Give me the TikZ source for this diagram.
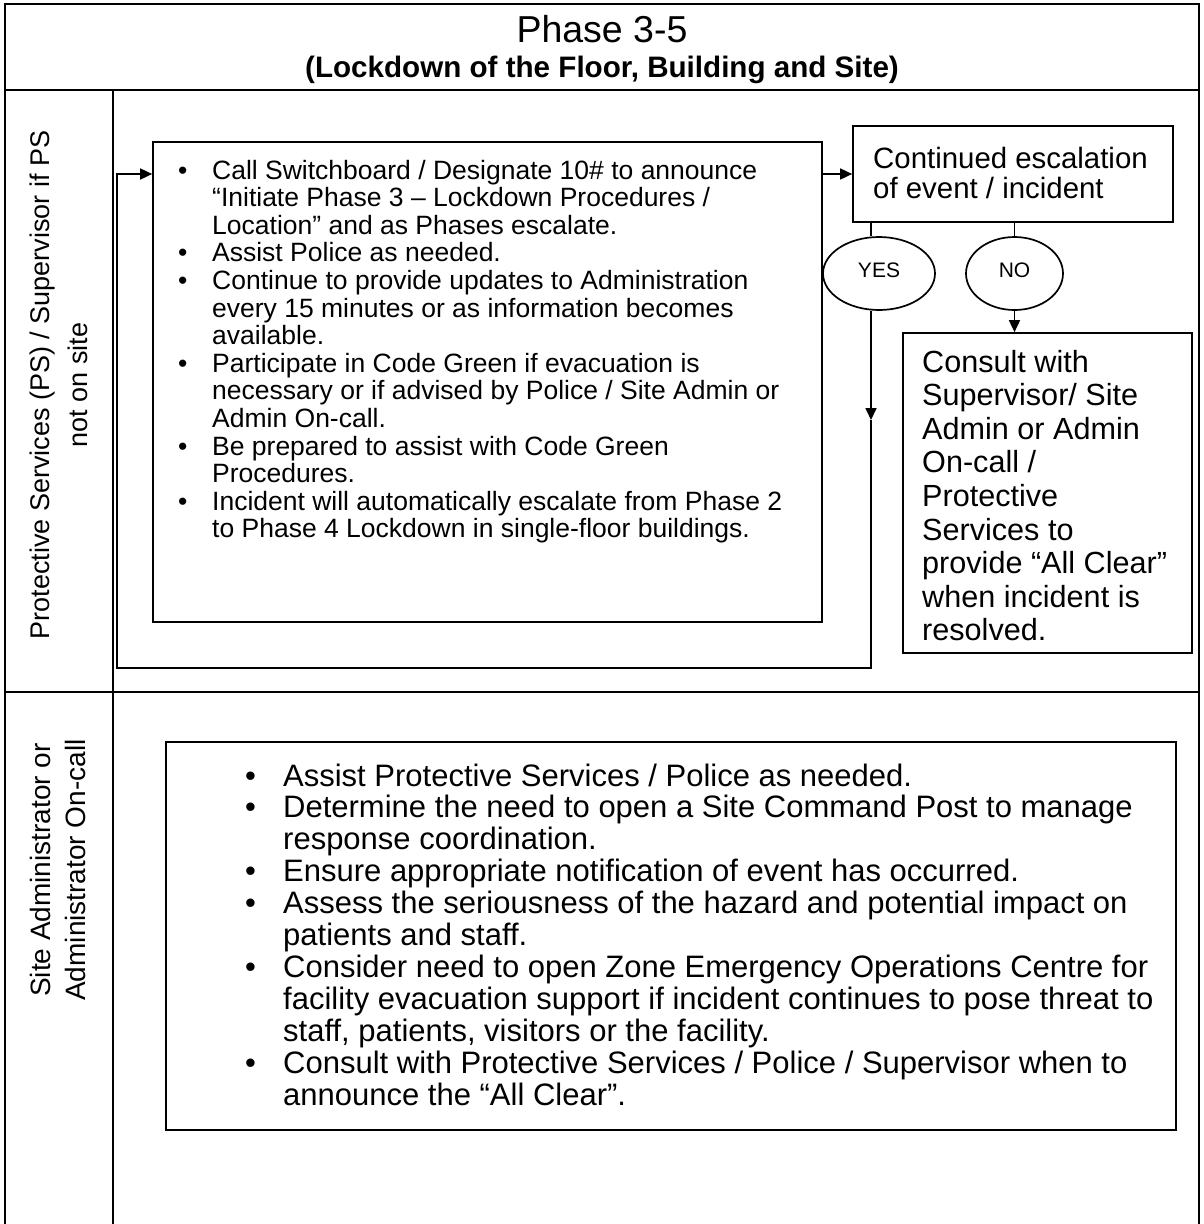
\documentclass[tikz,border=0pt]{standalone}
\usepackage{fontspec}
\setmainfont{Liberation Sans}
\usetikzlibrary{arrows.meta,shapes.geometric,calc}
\begin{document}
\begin{tikzpicture}[x=1pt,y=-1pt,
  box/.style={draw,line width=1.7pt,rectangle,inner sep=0pt},
  conn/.style={line width=1.7pt},
  tip/.style={-{Triangle[length=12pt,width=11pt]}},
  oval/.style={draw,line width=1.7pt,ellipse,inner sep=0pt,font=\fontsize{21}{24}\selectfont},
  frame/.style={line width=2.6pt},
  txt/.style={inner sep=0pt,anchor=base west}
]
\useasboundingbox (0,0) rectangle (1203,1224);
% table frame
\draw[frame] (5,1240) -- (5,4) -- (1199,4) -- (1199,1240);
\draw[frame] (5,90) -- (1199,90);
\draw[line width=2pt] (5,692) -- (1199,692);
\draw[line width=2pt] (113,90) -- (113,1240);

% header
\node[inner sep=0pt,anchor=base,font=\fontsize{37.5}{40}\selectfont] (title) at (602,42) {Phase 3-5};
\node[inner sep=0pt,anchor=base,font=\bfseries\fontsize{29.6}{32}\selectfont] (subtitle) at (602,77) {(Lockdown of the Floor, Building and Site)};

% row labels
\node[rotate=90,align=center,inner sep=0pt,font=\fontsize{27}{38}\selectfont] (lab1) at (59,385) {Protective Services (PS) / Supervisor if PS\\not on site};
\node[rotate=90,align=center,inner sep=0pt,font=\fontsize{28}{35}\selectfont] (lab2) at (58,870) {Site Administrator or\\Administrator On-call};

% boxes
\node[box,minimum width=669pt,minimum height=480pt] (main) at (487.5,382) {};
\node[box,minimum width=320pt,minimum height=96pt] (esc) at (1013,174) {};
\node[box,minimum width=289pt,minimum height=320pt] (consult) at (1047.5,493) {};
\node[box,minimum width=1010pt,minimum height=388pt] (bottom) at (671,936) {};
\node[oval,minimum width=112pt,minimum height=73pt] (yes) at (879,273.5) {\raisebox{-1pt}[0pt][0pt]{\raisebox{-0.35em}{}}\raisebox{4pt}[0pt][0pt]{\raisebox{-0.36em}{YES}}};
\node[oval,minimum width=97pt,minimum height=73pt] (no) at (1014.5,273.5) {\raisebox{4pt}[0pt][0pt]{\raisebox{-0.36em}{NO}}};

% texts
\node[txt,font=\fontsize{26.5}{27.6}\selectfont] (maintxt) at (178,179) {\begin{tabular}[t]{@{}p{34pt}@{}l@{}}
•&Call Switchboard / Designate 10\# to announce\\
&“Initiate Phase 3 – Lockdown Procedures /\\
&Location” and as Phases escalate.\\
•&Assist Police as needed.\\
•&Continue to provide updates to Administration\\
&every 15 minutes or as information becomes\\
&available.\\
•&Participate in Code Green if evacuation is\\
&necessary or if advised by Police / Site Admin or\\
&Admin On-call.\\
•&Be prepared to assist with Code Green\\
&Procedures.\\
•&Incident will automatically escalate from Phase 2\\
&to Phase 4 Lockdown in single-floor buildings.
\end{tabular}};

\node[txt,font=\fontsize{29.4}{30}\selectfont] (esctxt) at (873,168) {\begin{tabular}[t]{@{}l@{}}
Continued escalation\\
of event / incident
\end{tabular}};

\node[txt,font=\fontsize{30.6}{33.6}\selectfont] (consulttxt) at (922,372) {\begin{tabular}[t]{@{}l@{}}
Consult with\\
Supervisor/ Site\\
Admin or Admin\\
On-call /\\
Protective\\
Services to\\
provide “All Clear”\\
when incident is\\
resolved.
\end{tabular}};

\node[txt,font=\fontsize{31}{31.6}\selectfont] (bottomtxt) at (245,786) {\begin{tabular}[t]{@{}p{38pt}@{}l@{}}
•&Assist Protective Services / Police as needed.\\
•&Determine the need to open a Site Command Post to manage\\
&response coordination.\\
•&Ensure appropriate notification of event has occurred.\\
•&Assess the seriousness of the hazard and potential impact on\\
&patients and staff.\\
•&Consider need to open Zone Emergency Operations Centre for\\
&facility evacuation support if incident continues to pose threat to\\
&staff, patients, visitors or the facility.\\
•&Consult with Protective Services / Police / Supervisor when to\\
&announce the “All Clear”.
\end{tabular}};

% connectors
\coordinate (yx) at (871,0);
\coordinate (loopbr) at (871,668);
\coordinate (loopbl) at (117,668);
\coordinate (yesmid) at (871,420);
\draw[conn,tip] (main.east |- esc.west) -- (esc.west);
\draw[conn] (esc.south -| yx) -- (yes.north -| yx);
\draw[conn,tip] (yes.south -| yx) -- (yesmid);
\draw[conn,tip] (yesmid) -- (loopbr) -- (loopbl) -- (loopbl |- esc.west) -- (main.west |- esc.west);
\draw[conn] (esc.south -| no.north) -- (no.north);
\draw[conn,tip] (no.south) -- (consult.north -| no.south);
\end{tikzpicture}
\end{document}
